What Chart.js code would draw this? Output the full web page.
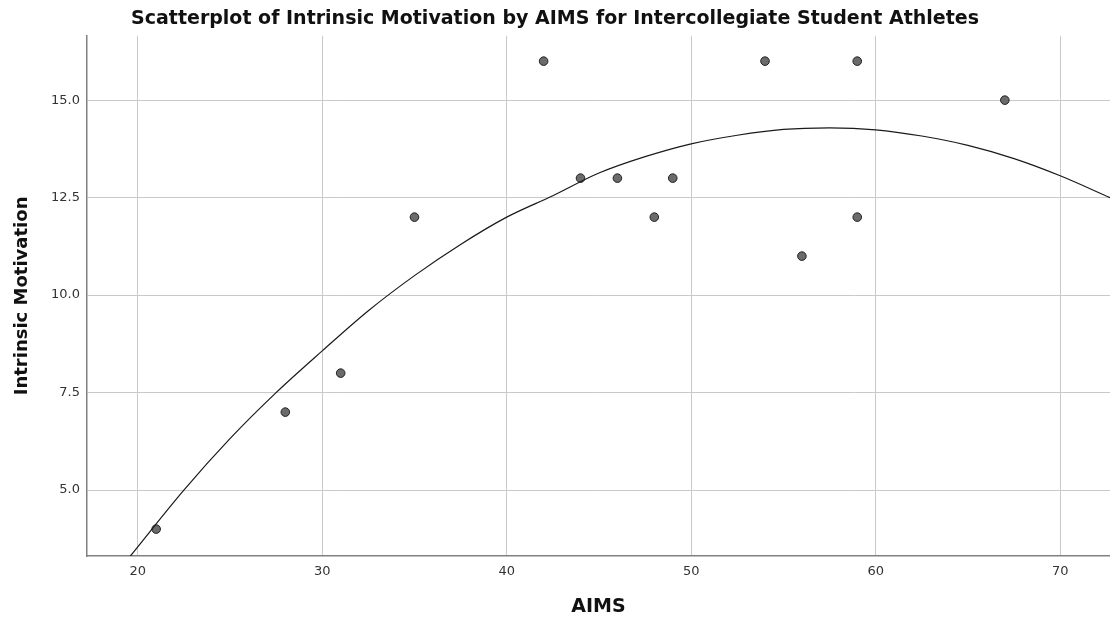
<!DOCTYPE html>
<html>
<head>
<meta charset="utf-8">
<script src="https://cdn.jsdelivr.net/npm/chart.js@4.4.0/dist/chart.umd.min.js"></script>
<style>
  html, body { margin: 0; padding: 0; background: #fff; }
  #wrap { width: 1110px; height: 621px; position: relative; }
</style>
</head>
<body>
<div id="wrap"><canvas id="grafico"></canvas></div>
<script>
// observed cases
const aims = [21, 28, 31, 35, 42, 44, 46, 48, 49, 54, 56, 59, 59, 67];
const motivacao = [4, 7, 8, 12, 16, 13, 13, 12, 13, 16, 11, 16, 12, 15];

// fit line
const curvaX = [19.6, 22.5, 25, 27.5, 30, 32.5, 35, 37.5, 40, 42.5, 45, 47.5, 50, 52.5, 55, 57.5, 60, 62.5, 65, 67.5, 70, 72.7];
const curvaY = [3.31, 5.0, 6.32, 7.5, 8.57, 9.6, 10.5, 11.3, 12.0, 12.55, 13.13, 13.55, 13.88, 14.1, 14.25, 14.29, 14.24, 14.08, 13.84, 13.5, 13.06, 12.5];

const xTicks = [20, 30, 40, 50, 60, 70];
const yTicks = [5, 7.5, 10, 12.5, 15];

const fonte = "'DejaVu Sans', sans-serif";
const ctx = document.getElementById('grafico').getContext('2d');

const pontos = aims.map((v, i) => ({ x: v, y: motivacao[i] }));
const curva = curvaX.map((v, i) => ({ x: v, y: curvaY[i] }));

const chart = new Chart(ctx, {
    type: 'scatter',
    data: {
        datasets: [
            {
                data: curva,
                showLine: true,
                pointRadius: 0,
                borderColor: '#1a1a1a',
                borderWidth: 1.2,
                cubicInterpolationMode: 'monotone',
                fill: false,
            },
            {
                data: pontos,
                pointRadius: 4.3,
                backgroundColor: '#6b6b6b',
                borderColor: '#222',
                borderWidth: 1,
            },
        ],
    },
    options: {
        responsive: true,
        maintainAspectRatio: false,
        animation: false,
        layout: { padding: 0, autoPadding: false },
        plugins: {
            legend: { display: false },
            tooltip: { enabled: false },
            title: {
                display: true,
                text: 'Scatterplot of Intrinsic Motivation by AIMS for Intercollegiate Student Athletes',
                color: '#111',
                font: { family: fonte, size: 19, weight: 'bold' },
                padding: { top: 8, bottom: 5 },
            },
        },
        scales: {
            x: {
                type: 'linear',
                min: 17.25,
                max: 72.7,
                afterBuildTicks: (s) => { s.ticks = xTicks.map(v => ({ value: v })); },
                afterFit: (s) => { s.height = 65; },
                grid: { color: '#c9c9c9', lineWidth: 1, drawTicks: false },
                border: { color: '#808080', width: 1.5 },
                ticks: { color: '#333', font: { family: fonte, size: 13 }, padding: 8, maxRotation: 0 },
                title: {
                    display: true,
                    text: 'AIMS',
                    color: '#111',
                    font: { family: fonte, size: 19, weight: 'bold' },
                    padding: { top: 0, bottom: 3 },
                },
            },
            y: {
                type: 'linear',
                min: 3.31,
                max: 16.65,
                afterBuildTicks: (s) => { s.ticks = yTicks.map(v => ({ value: v })); },
                afterFit: (s) => { s.width = 87; },
                grid: { color: '#c9c9c9', lineWidth: 1, drawTicks: false },
                border: { color: '#808080', width: 1.5 },
                ticks: {
                    color: '#333',
                    font: { family: fonte, size: 13 },
                    padding: 7,
                    callback: (v) => Number(v).toFixed(1),
                },
                title: {
                    display: true,
                    text: 'Intrinsic Motivation',
                    color: '#111',
                    font: { family: fonte, size: 18, weight: 'bold' },
                    padding: { top: 12, bottom: 0 },
                },
            },
        },
    },
});
</script>
</body>
</html>
